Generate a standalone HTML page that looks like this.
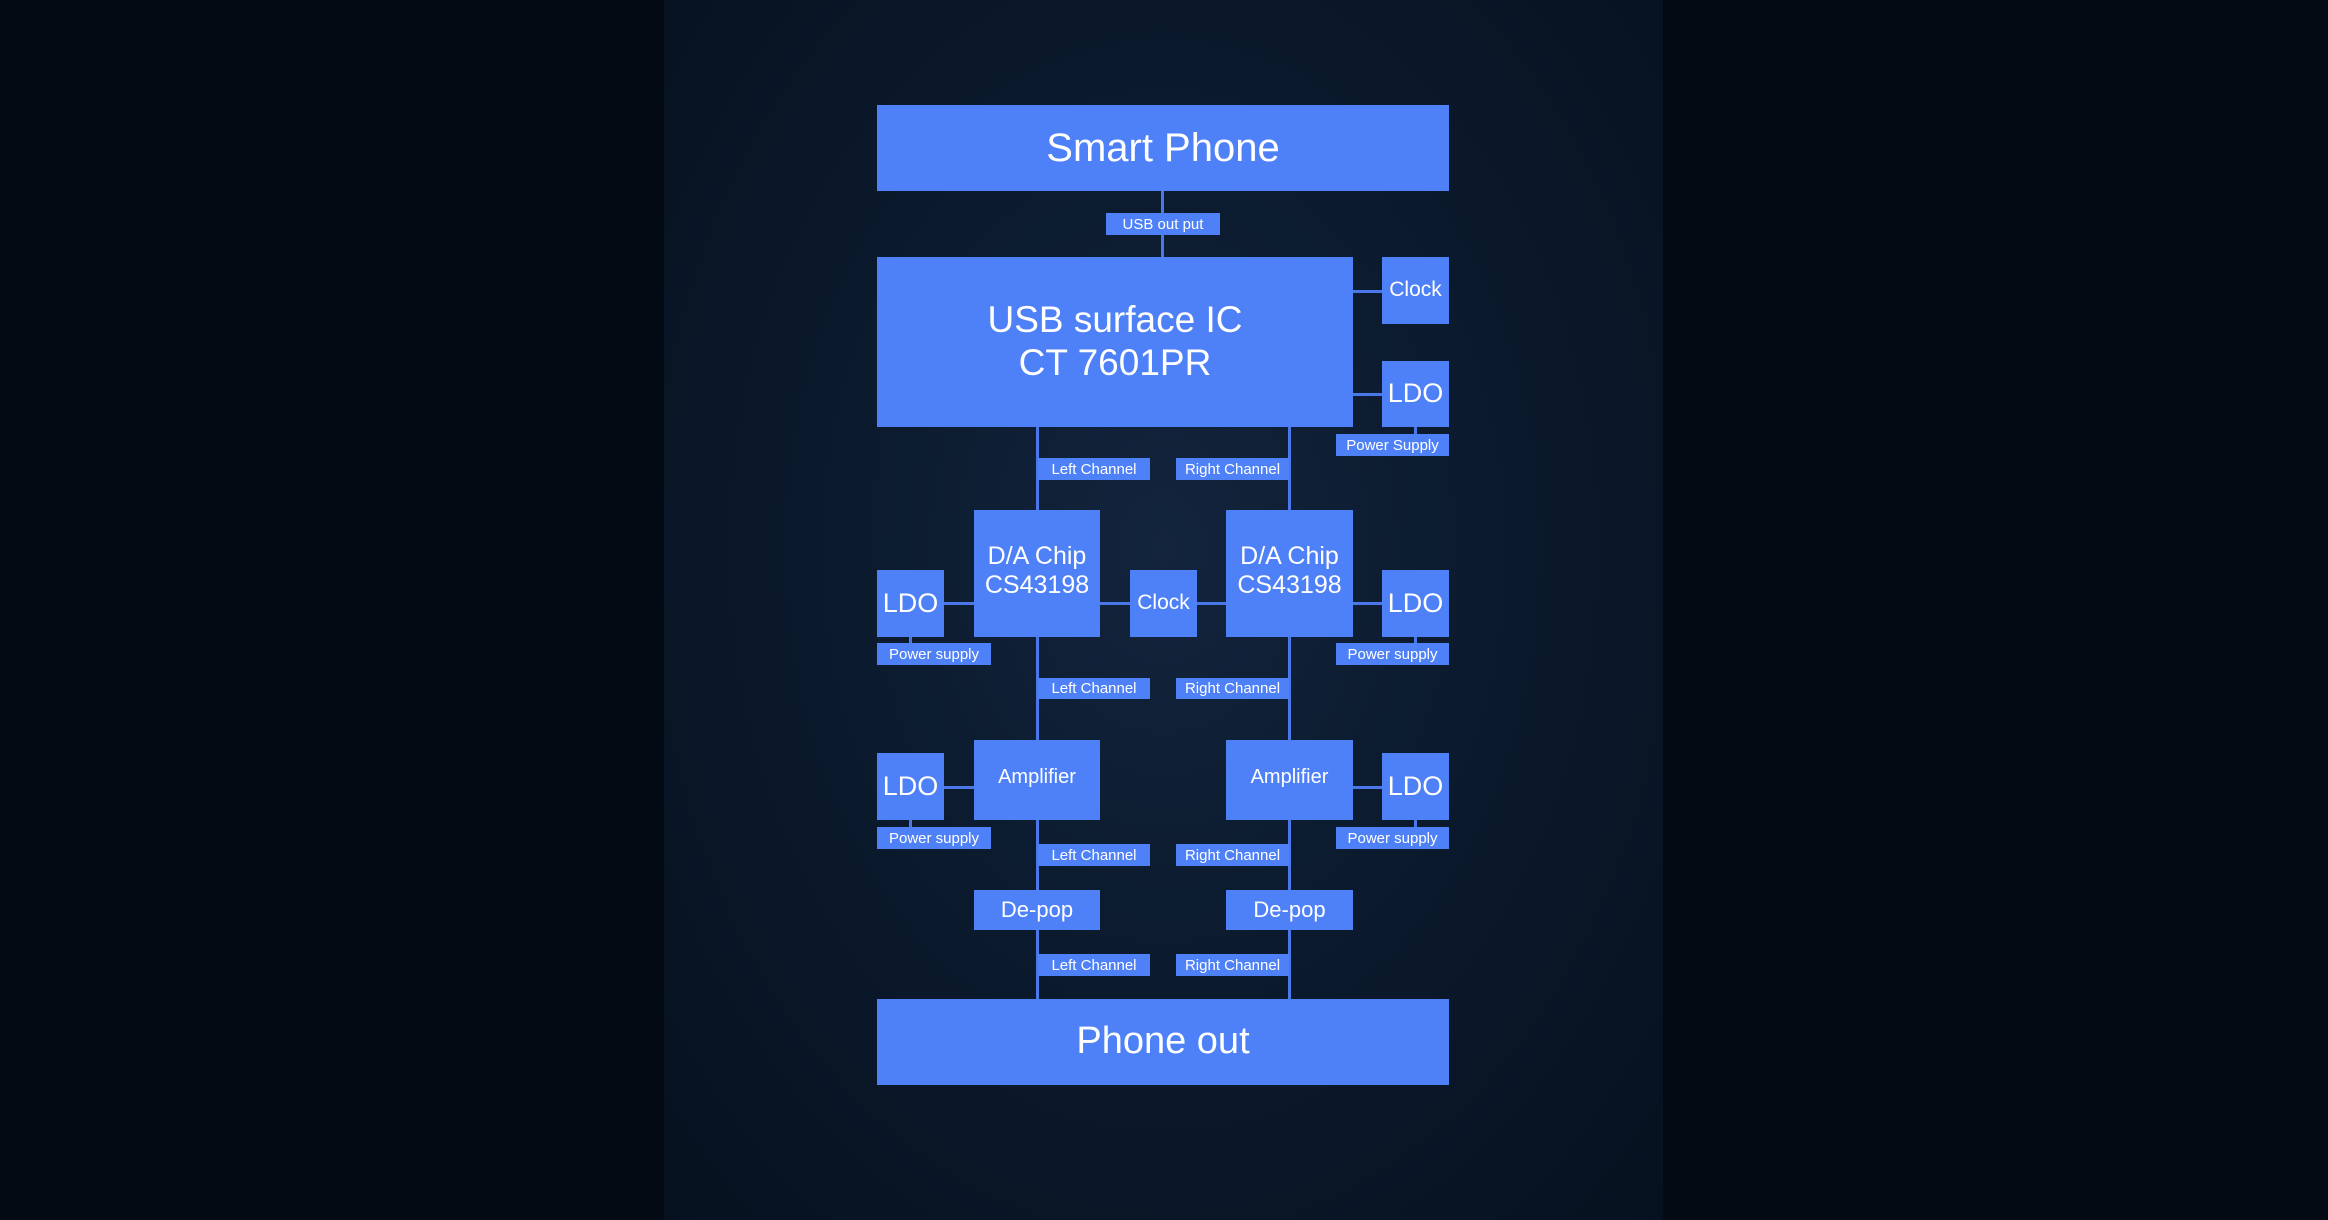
<!DOCTYPE html>
<html><head><meta charset="utf-8"><style>
html,body{margin:0;padding:0}
body{width:2328px;height:1220px;position:relative;overflow:hidden;background:#030a14;font-family:"Liberation Sans",sans-serif}
.panel{position:absolute;left:664px;top:0;width:999px;height:1220px;background:radial-gradient(ellipse at 50% 45%,#13243d 0%,#0b1a2d 45%,#06111f 100%)}
.b{position:absolute;background:#4e80f8;color:#fff;display:flex;align-items:center;justify-content:center;text-align:center;box-sizing:border-box;line-height:1.15}
.l{position:absolute;background:#4e80f8;color:#fff;font-size:15px;display:flex;align-items:center;justify-content:center;white-space:nowrap}
.h{position:absolute;background:#4a78e8;height:3px}
.v{position:absolute;background:#4a78e8;width:3px}
</style></head><body>
<div class="panel"></div>
<div class="v" style="left:1161px;top:190px;height:68px"></div>
<div class="h" style="left:1353px;top:290px;width:30px"></div>
<div class="h" style="left:1353px;top:393px;width:30px"></div>
<div class="v" style="left:1414px;top:426px;height:10px"></div>
<div class="v" style="left:1036px;top:426px;height:575px"></div>
<div class="v" style="left:1288px;top:426px;height:575px"></div>
<div class="h" style="left:944px;top:602px;width:32px"></div>
<div class="h" style="left:1100px;top:602px;width:128px"></div>
<div class="h" style="left:1353px;top:602px;width:30px"></div>
<div class="v" style="left:909px;top:636px;height:8px"></div>
<div class="v" style="left:1414px;top:636px;height:8px"></div>
<div class="h" style="left:944px;top:786px;width:32px"></div>
<div class="h" style="left:1353px;top:786px;width:30px"></div>
<div class="v" style="left:909px;top:819px;height:9px"></div>
<div class="v" style="left:1414px;top:819px;height:9px"></div>
<div class="b" style="left:877px;top:105px;width:572px;height:86px;font-size:40px">Smart Phone</div>
<div class="l" style="left:1106px;top:213px;width:114px;height:22px">USB out put</div>
<div class="b" style="left:877px;top:257px;width:476px;height:170px;font-size:37px">USB surface IC<br>CT 7601PR</div>
<div class="b" style="left:1382px;top:257px;width:67px;height:67px;font-size:21px">Clock</div>
<div class="b" style="left:1382px;top:361px;width:67px;height:66px;font-size:27px">LDO</div>
<div class="l" style="left:1336px;top:434px;width:113px;height:22px">Power Supply</div>
<div class="l" style="left:1038px;top:458px;width:112px;height:22px">Left Channel</div>
<div class="l" style="left:1176px;top:458px;width:113px;height:22px">Right Channel</div>
<div class="b" style="left:974px;top:510px;width:126px;height:127px;font-size:25px;padding-bottom:6px">D/A Chip<br>CS43198</div>
<div class="b" style="left:1226px;top:510px;width:127px;height:127px;font-size:25px;padding-bottom:6px">D/A Chip<br>CS43198</div>
<div class="b" style="left:1130px;top:570px;width:67px;height:67px;font-size:21px">Clock</div>
<div class="b" style="left:877px;top:570px;width:67px;height:67px;font-size:27px">LDO</div>
<div class="b" style="left:1382px;top:570px;width:67px;height:67px;font-size:27px">LDO</div>
<div class="l" style="left:877px;top:643px;width:114px;height:22px">Power supply</div>
<div class="l" style="left:1336px;top:643px;width:113px;height:22px">Power supply</div>
<div class="l" style="left:1038px;top:678px;width:112px;height:21px">Left Channel</div>
<div class="l" style="left:1176px;top:678px;width:113px;height:21px">Right Channel</div>
<div class="b" style="left:974px;top:740px;width:126px;height:80px;font-size:20px;padding-bottom:6px">Amplifier</div>
<div class="b" style="left:1226px;top:740px;width:127px;height:80px;font-size:20px;padding-bottom:6px">Amplifier</div>
<div class="b" style="left:877px;top:753px;width:67px;height:67px;font-size:27px">LDO</div>
<div class="b" style="left:1382px;top:753px;width:67px;height:67px;font-size:27px">LDO</div>
<div class="l" style="left:877px;top:827px;width:114px;height:22px">Power supply</div>
<div class="l" style="left:1336px;top:827px;width:113px;height:22px">Power supply</div>
<div class="l" style="left:1038px;top:844px;width:112px;height:22px">Left Channel</div>
<div class="l" style="left:1176px;top:844px;width:113px;height:22px">Right Channel</div>
<div class="b" style="left:974px;top:890px;width:126px;height:40px;font-size:22px">De-pop</div>
<div class="b" style="left:1226px;top:890px;width:127px;height:40px;font-size:22px">De-pop</div>
<div class="l" style="left:1038px;top:954px;width:112px;height:22px">Left Channel</div>
<div class="l" style="left:1176px;top:954px;width:113px;height:22px">Right Channel</div>
<div class="b" style="left:877px;top:999px;width:572px;height:86px;font-size:38px">Phone out</div>
</body></html>
